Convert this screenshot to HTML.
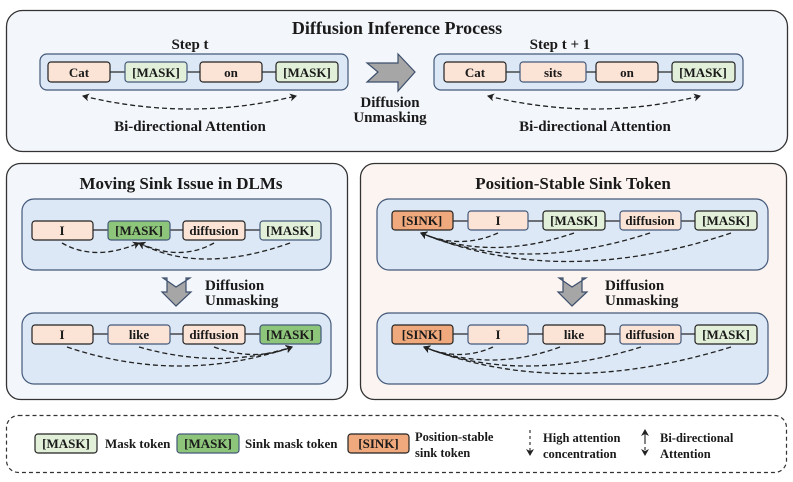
<!DOCTYPE html>
<html><head><meta charset="utf-8"><style>
html,body{margin:0;padding:0;background:#fff}
svg{display:block}
text{font-family:"Liberation Serif",serif;font-weight:bold;fill:#1a1a1a}
</style></head><body>
<svg width="793" height="482" viewBox="0 0 793 482" xmlns="http://www.w3.org/2000/svg">
<defs>
<marker id="ah" markerWidth="8" markerHeight="8" refX="6" refY="4" orient="auto" markerUnits="userSpaceOnUse"><path d="M0,0 L7,4 L0,8 L2,4 z" fill="#222"/></marker>
<marker id="ahs" markerWidth="8" markerHeight="8" refX="1" refY="4" orient="auto" markerUnits="userSpaceOnUse"><path d="M7,0 L0,4 L7,8 L5,4 z" fill="#222"/></marker>
</defs>
<!-- Top panel -->
<rect x="6.5" y="10.5" width="781" height="141" rx="16" fill="#f3f6fb" stroke="#333" stroke-width="1.3"/>
<text x="397" y="34" font-size="18" text-anchor="middle">Diffusion Inference Process</text>
<text x="190" y="49" font-size="15" text-anchor="middle">Step  t</text>
<rect x="40" y="54" width="308" height="36" rx="7" fill="#dce8f5" stroke="#44597a" stroke-width="1.2"/>
<g stroke="#222" stroke-width="1.2"><line x1="110" y1="72" x2="125" y2="72"/><line x1="187" y1="72" x2="200" y2="72"/><line x1="262" y1="72" x2="276" y2="72"/></g>
<rect x="48" y="62" width="62" height="20" rx="3" fill="#fbe3d6" stroke="#222" stroke-width="1.2"/>
<rect x="125" y="62" width="62" height="20" rx="3" fill="#e2f0d9" stroke="#44597a" stroke-width="1.2"/>
<rect x="200" y="62" width="62" height="20" rx="3" fill="#fbe3d6" stroke="#222" stroke-width="1.2"/>
<rect x="276" y="62" width="62" height="20" rx="3" fill="#e2f0d9" stroke="#222" stroke-width="1.2"/>
<g font-size="13" text-anchor="middle"><text x="79" y="77">Cat</text><text x="156" y="77">[MASK]</text><text x="231" y="77">on</text><text x="307" y="77">[MASK]</text></g>
<path d="M83,96 Q190,122 296,96" fill="none" stroke="#222" stroke-width="1.3" stroke-dasharray="5,3" marker-start="url(#ahs)" marker-end="url(#ah)"/>
<text x="190" y="131" font-size="15" text-anchor="middle">Bi-directional Attention</text>
<path d="M367,63 L398,63 L398,54 L415,72 L398,91 L398,82 L367,82 L378,72 z" fill="#a6a6a6" stroke="#3d4f6c" stroke-width="1.2"/>
<text x="390" y="107" font-size="15" text-anchor="middle">Diffusion</text>
<text x="390" y="122" font-size="15" text-anchor="middle">Unmasking</text>
<text x="560" y="49" font-size="15" text-anchor="middle">Step  t + 1</text>
<rect x="434" y="54" width="309" height="36" rx="7" fill="#dce8f5" stroke="#44597a" stroke-width="1.2"/>
<g stroke="#222" stroke-width="1.2"><line x1="506" y1="72" x2="520" y2="72"/><line x1="586" y1="72" x2="596" y2="72"/><line x1="658" y1="72" x2="672" y2="72"/></g>
<rect x="444" y="62" width="62" height="20" rx="3" fill="#fbe3d6" stroke="#222" stroke-width="1.2"/>
<rect x="520" y="62" width="66" height="20" rx="3" fill="#fbe3d6" stroke="#44597a" stroke-width="1.2"/>
<rect x="596" y="62" width="62" height="20" rx="3" fill="#fbe3d6" stroke="#222" stroke-width="1.2"/>
<rect x="672" y="62" width="63" height="20" rx="3" fill="#e2f0d9" stroke="#222" stroke-width="1.2"/>
<g font-size="13" text-anchor="middle"><text x="475" y="77">Cat</text><text x="553" y="77">sits</text><text x="627" y="77">on</text><text x="703" y="77">[MASK]</text></g>
<path d="M488,96 Q595,122 700,96" fill="none" stroke="#222" stroke-width="1.3" stroke-dasharray="5,3" marker-start="url(#ahs)" marker-end="url(#ah)"/>
<text x="595" y="131" font-size="15" text-anchor="middle">Bi-directional Attention</text>

<!-- Left mid panel -->
<rect x="6.5" y="163.5" width="341" height="236" rx="14" fill="#f3f6fb" stroke="#333" stroke-width="1.3"/>
<text x="181" y="189" font-size="17" text-anchor="middle">Moving Sink Issue in DLMs</text>
<rect x="22" y="199" width="309" height="71" rx="12" fill="#dce8f5" stroke="#44597a" stroke-width="1.2"/>
<g stroke="#222" stroke-width="1.2"><line x1="93" y1="230" x2="108" y2="230"/><line x1="170" y1="230" x2="183" y2="230"/><line x1="245" y1="230" x2="260" y2="230"/></g>
<rect x="32" y="221" width="61" height="19" rx="3" fill="#fbe3d6" stroke="#222" stroke-width="1.2"/>
<rect x="108" y="221" width="62" height="19" rx="3" fill="#8dc57a" stroke="#44597a" stroke-width="1.2"/>
<rect x="183" y="221" width="62" height="19" rx="3" fill="#fbe3d6" stroke="#222" stroke-width="1.2"/>
<rect x="260" y="221" width="61" height="19" rx="3" fill="#e2f0d9" stroke="#44597a" stroke-width="1.2"/>
<g font-size="13" text-anchor="middle"><text x="62" y="235">I</text><text x="139" y="235">[MASK]</text><text x="214" y="235">diffusion</text><text x="290" y="235">[MASK]</text></g>
<g fill="none" stroke="#222" stroke-width="1.3" stroke-dasharray="5,3">
<path d="M62,243 Q95,262 139,243" marker-end="url(#ah)"/>
<path d="M214,243 Q180,262 139,243" marker-end="url(#ah)"/>
<path d="M290,243 Q200,275 139,243" marker-end="url(#ah)"/>
</g>
<path d="M163,278 L176,287 L190,278 L186,278 L186,292 L191,292 L176,306 L162,292 L167,292 L167,278 z" fill="#a6a6a6" stroke="#3d4f6c" stroke-width="1.2"/>
<text x="205" y="290" font-size="15">Diffusion</text>
<text x="205" y="305" font-size="15">Unmasking</text>
<rect x="22" y="313" width="309" height="71" rx="12" fill="#dce8f5" stroke="#44597a" stroke-width="1.2"/>
<g stroke="#222" stroke-width="1.2"><line x1="93" y1="334" x2="108" y2="334"/><line x1="170" y1="334" x2="183" y2="334"/><line x1="245" y1="334" x2="260" y2="334"/></g>
<rect x="32" y="325" width="61" height="19" rx="3" fill="#fbe3d6" stroke="#222" stroke-width="1.2"/>
<rect x="108" y="325" width="62" height="19" rx="3" fill="#fbe3d6" stroke="#44597a" stroke-width="1.2"/>
<rect x="183" y="325" width="62" height="19" rx="3" fill="#fbe3d6" stroke="#222" stroke-width="1.2"/>
<rect x="260" y="325" width="61" height="19" rx="3" fill="#8dc57a" stroke="#44597a" stroke-width="1.2"/>
<g font-size="13" text-anchor="middle"><text x="62" y="339">I</text><text x="139" y="339">like</text><text x="214" y="339">diffusion</text><text x="290" y="339">[MASK]</text></g>
<g fill="none" stroke="#222" stroke-width="1.3" stroke-dasharray="5,3">
<path d="M67,347 Q180,385 292,347" marker-end="url(#ah)"/>
<path d="M139,347 Q220,370 292,347" marker-end="url(#ah)"/>
<path d="M214,347 Q255,362 292,347" marker-end="url(#ah)"/>
</g>

<!-- Right mid panel -->
<rect x="360.5" y="163.5" width="426" height="236" rx="14" fill="#fcf4f1" stroke="#333" stroke-width="1.3"/>
<text x="573" y="189" font-size="17" text-anchor="middle">Position-Stable Sink Token</text>
<rect x="377" y="199" width="391" height="71" rx="12" fill="#dce8f5" stroke="#44597a" stroke-width="1.2"/>
<g stroke="#222" stroke-width="1.2"><line x1="453" y1="221" x2="468" y2="221"/><line x1="528" y1="221" x2="543" y2="221"/><line x1="605" y1="221" x2="620" y2="221"/><line x1="681" y1="221" x2="695" y2="221"/></g>
<rect x="392" y="211" width="61" height="19" rx="3" fill="#f0a97c" stroke="#222" stroke-width="1.2"/>
<rect x="468" y="211" width="60" height="19" rx="3" fill="#fbe3d6" stroke="#44597a" stroke-width="1.2"/>
<rect x="543" y="211" width="62" height="19" rx="3" fill="#e2f0d9" stroke="#222" stroke-width="1.2"/>
<rect x="620" y="211" width="61" height="19" rx="3" fill="#fbe3d6" stroke="#44597a" stroke-width="1.2"/>
<rect x="695" y="211" width="62" height="19" rx="3" fill="#e2f0d9" stroke="#222" stroke-width="1.2"/>
<g font-size="13" text-anchor="middle"><text x="422" y="225">[SINK]</text><text x="498" y="225">I</text><text x="574" y="225">[MASK]</text><text x="650" y="225">diffusion</text><text x="726" y="225">[MASK]</text></g>
<g fill="none" stroke="#222" stroke-width="1.3" stroke-dasharray="5,3">
<path d="M498,233 Q460,250 421,233" marker-end="url(#ah)"/>
<path d="M574,233 Q490,262 421,233" marker-end="url(#ah)"/>
<path d="M650,233 Q520,275 421,233" marker-end="url(#ah)"/>
<path d="M731,233 Q560,290 421,233" marker-end="url(#ah)"/>
</g>
<path d="M559,278 L572,287 L586,278 L582,278 L582,292 L587,292 L572,306 L558,292 L563,292 L563,278 z" fill="#a6a6a6" stroke="#3d4f6c" stroke-width="1.2"/>
<text x="605" y="290" font-size="15">Diffusion</text>
<text x="605" y="305" font-size="15">Unmasking</text>
<rect x="377" y="313" width="391" height="71" rx="12" fill="#dce8f5" stroke="#44597a" stroke-width="1.2"/>
<g stroke="#222" stroke-width="1.2"><line x1="453" y1="334" x2="468" y2="334"/><line x1="528" y1="334" x2="543" y2="334"/><line x1="605" y1="334" x2="620" y2="334"/><line x1="681" y1="334" x2="695" y2="334"/></g>
<rect x="392" y="325" width="61" height="19" rx="3" fill="#f0a97c" stroke="#222" stroke-width="1.2"/>
<rect x="468" y="325" width="60" height="19" rx="3" fill="#fbe3d6" stroke="#44597a" stroke-width="1.2"/>
<rect x="543" y="325" width="62" height="19" rx="3" fill="#fbe3d6" stroke="#222" stroke-width="1.2"/>
<rect x="620" y="325" width="61" height="19" rx="3" fill="#fbe3d6" stroke="#44597a" stroke-width="1.2"/>
<rect x="695" y="325" width="62" height="19" rx="3" fill="#e2f0d9" stroke="#222" stroke-width="1.2"/>
<g font-size="13" text-anchor="middle"><text x="422" y="339">[SINK]</text><text x="498" y="339">I</text><text x="574" y="339">like</text><text x="650" y="339">diffusion</text><text x="726" y="339">[MASK]</text></g>
<g fill="none" stroke="#222" stroke-width="1.3" stroke-dasharray="5,3">
<path d="M493,347 Q460,362 424,347" marker-end="url(#ah)"/>
<path d="M560,347 Q490,373 424,347" marker-end="url(#ah)"/>
<path d="M641,347 Q520,385 424,347" marker-end="url(#ah)"/>
<path d="M731,347 Q560,400 424,347" marker-end="url(#ah)"/>
</g>

<!-- Legend -->
<rect x="6.5" y="415.5" width="780" height="57" rx="12" fill="#fff" stroke="#333" stroke-width="1.2" stroke-dasharray="4,3"/>
<rect x="35" y="434" width="62" height="19" rx="3" fill="#e2f0d9" stroke="#222" stroke-width="1.2"/>
<text x="66" y="448" font-size="13" text-anchor="middle">[MASK]</text>
<text x="105" y="448" font-size="13">Mask token</text>
<rect x="177" y="434" width="62" height="19" rx="3" fill="#8dc57a" stroke="#44597a" stroke-width="1.2"/>
<text x="208" y="448" font-size="13" text-anchor="middle">[MASK]</text>
<text x="245" y="448" font-size="13">Sink mask token</text>
<rect x="348" y="434" width="61" height="19" rx="3" fill="#f0a97c" stroke="#222" stroke-width="1.2"/>
<text x="378.5" y="448" font-size="13" text-anchor="middle">[SINK]</text>
<text x="415" y="441" font-size="12.5">Position-stable</text>
<text x="415" y="457" font-size="12.5">sink token</text>
<line x1="530" y1="430" x2="530" y2="455" stroke="#222" stroke-width="1.1" stroke-dasharray="3,3" marker-end="url(#ah)"/>
<text x="543" y="442" font-size="12.5">High attention</text>
<text x="543" y="458" font-size="12.5">concentration</text>
<line x1="645" y1="441" x2="645" y2="430" stroke="#222" stroke-width="1.1" marker-end="url(#ah)"/>
<line x1="645" y1="441" x2="645" y2="455" stroke="#222" stroke-width="1.1" stroke-dasharray="3,3" marker-end="url(#ah)"/>
<text x="660" y="442" font-size="12.5">Bi-directional</text>
<text x="660" y="458" font-size="12.5">Attention</text>
</svg>
</body></html>
